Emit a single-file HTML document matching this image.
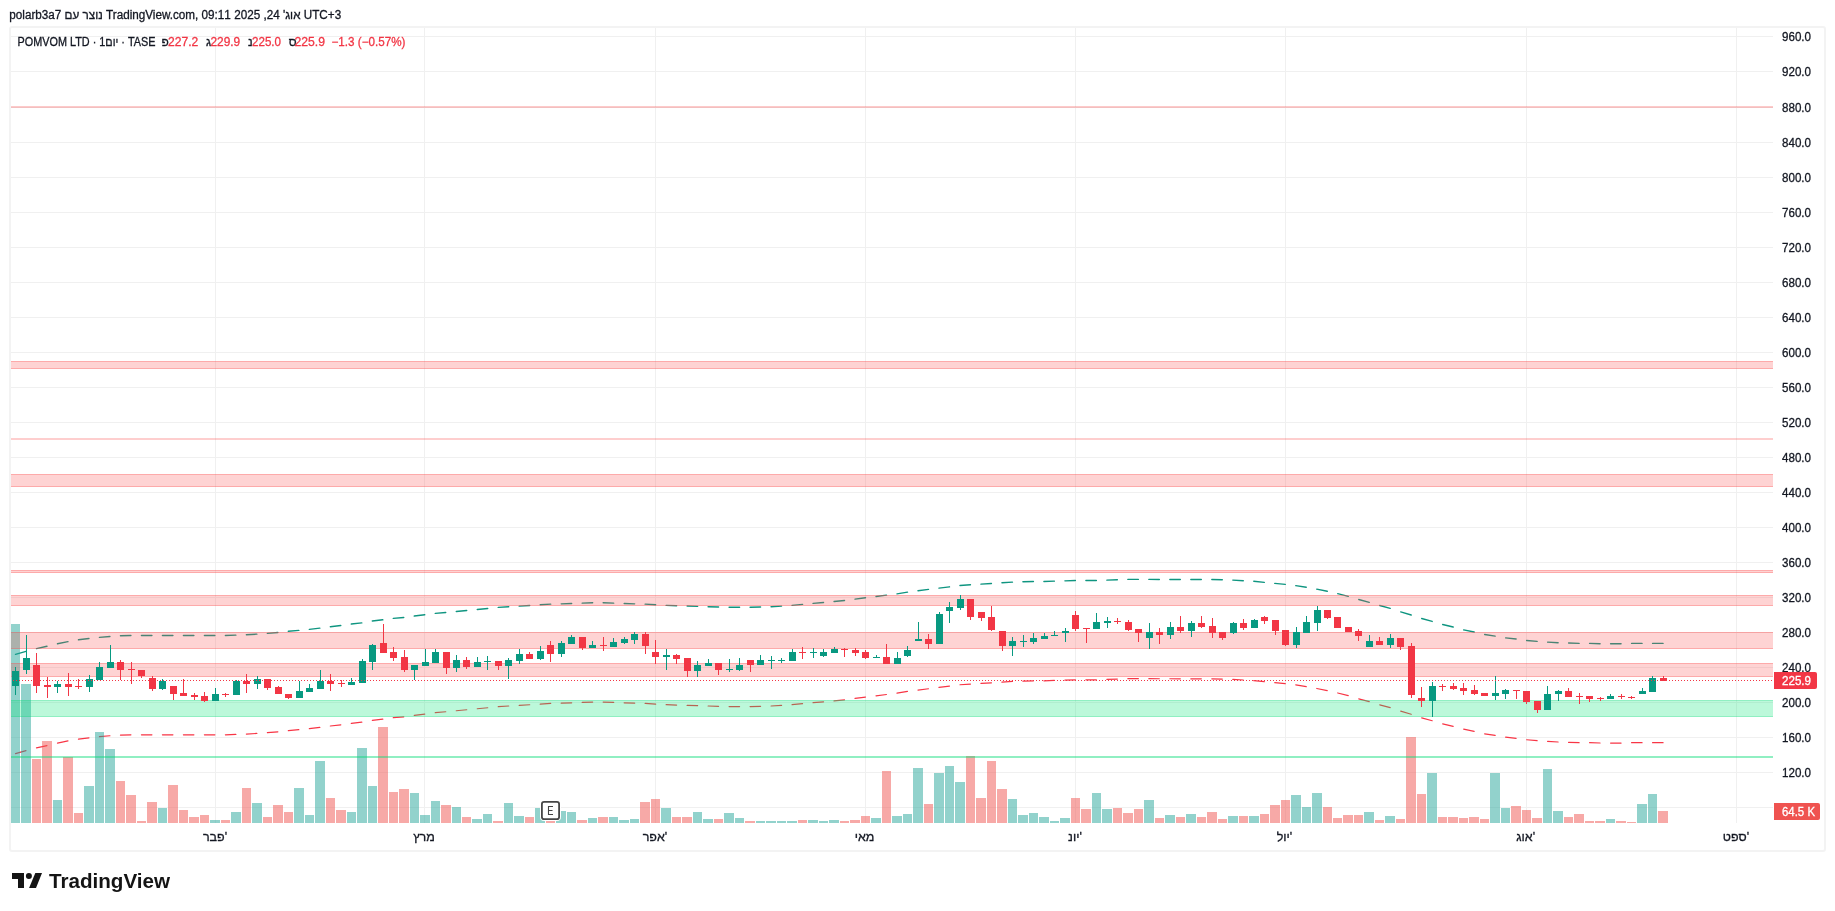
<!DOCTYPE html>
<html><head><meta charset="utf-8"><style>
html,body{margin:0;padding:0;background:#fff;width:1835px;height:911px;overflow:hidden;position:relative}
.frame{position:absolute;left:9px;top:26px;width:1817px;height:826px;box-sizing:border-box;border:2px solid #f3f3f3;border-radius:3px}
.t{position:absolute;white-space:nowrap;font-family:"Liberation Sans",sans-serif;direction:ltr;unicode-bidi:isolate}
</style></head><body>
<div class="frame"></div>
<svg width="1835" height="911" viewBox="0 0 1835 911" style="position:absolute;left:0;top:0;will-change:transform"><g shape-rendering="crispEdges" fill="#f0f0f0"><rect x="11" y="36" width="1762" height="1"/><rect x="11" y="71" width="1762" height="1"/><rect x="11" y="107" width="1762" height="1"/><rect x="11" y="142" width="1762" height="1"/><rect x="11" y="177" width="1762" height="1"/><rect x="11" y="212" width="1762" height="1"/><rect x="11" y="247" width="1762" height="1"/><rect x="11" y="282" width="1762" height="1"/><rect x="11" y="317" width="1762" height="1"/><rect x="11" y="352" width="1762" height="1"/><rect x="11" y="387" width="1762" height="1"/><rect x="11" y="422" width="1762" height="1"/><rect x="11" y="457" width="1762" height="1"/><rect x="11" y="492" width="1762" height="1"/><rect x="11" y="527" width="1762" height="1"/><rect x="11" y="562" width="1762" height="1"/><rect x="11" y="597" width="1762" height="1"/><rect x="11" y="632" width="1762" height="1"/><rect x="11" y="667" width="1762" height="1"/><rect x="11" y="702" width="1762" height="1"/><rect x="11" y="737" width="1762" height="1"/><rect x="11" y="772" width="1762" height="1"/><rect x="11" y="807" width="1762" height="1"/><rect x="215" y="28" width="1" height="795"/><rect x="424" y="28" width="1" height="795"/><rect x="655" y="28" width="1" height="795"/><rect x="865" y="28" width="1" height="795"/><rect x="1075" y="28" width="1" height="795"/><rect x="1285" y="28" width="1" height="795"/><rect x="1526" y="28" width="1" height="795"/><rect x="1736" y="28" width="1" height="795"/></g><path d="M15.50,654.37 L25.99,651.32 M36.49,648.63 L46.98,646.25 M57.48,643.81 L67.97,641.63 M78.46,639.81 L88.96,638.51 M99.45,637.40 L109.95,636.47 M120.44,635.80 L130.93,635.52 M141.43,635.50 L151.92,635.50 M162.42,635.50 L172.91,635.50 M183.40,635.50 L193.90,635.50 M204.39,635.50 L214.89,635.50 M225.38,635.50 L235.87,635.15 M246.37,634.77 L256.86,634.14 M267.36,633.40 L277.85,632.48 M288.34,631.32 L298.84,630.42 M309.33,629.33 L319.83,628.15 M330.32,626.72 L340.81,625.51 M351.31,624.06 L361.80,622.83 M372.30,621.00 L382.79,619.82 M393.28,618.35 L403.78,617.50 M414.27,616.05 L424.77,614.77 M435.26,613.42 L445.75,612.45 M456.25,611.45 L466.74,610.46 M477.24,609.45 L487.73,608.45 M498.22,607.41 L508.72,606.72 M519.21,606.09 L529.71,605.47 M540.20,604.82 L550.69,604.16 M561.19,603.85 L571.68,603.49 M582.18,603.14 L592.67,602.77 M603.16,602.77 L613.66,603.14 M624.15,603.49 L634.65,603.84 M645.14,604.16 L655.63,604.81 M666.13,605.42 L676.62,605.74 M687.12,606.06 L697.61,606.40 M708.10,606.69 L718.60,607.00 M729.09,607.29 L739.59,607.30 M750.08,607.30 L760.57,607.00 M771.07,606.71 L781.56,606.08 M792.06,605.40 L802.55,604.40 M813.04,603.42 L823.54,602.50 M834.03,601.52 L844.53,600.50 M855.02,599.14 L865.51,597.77 M876.01,596.50 L886.50,595.18 M897.00,593.84 L907.49,592.10 M917.98,590.73 L928.48,589.43 M938.97,588.16 L949.47,586.82 M959.96,585.47 L970.45,584.75 M980.95,584.11 L991.44,583.48 M1001.94,582.81 L1012.43,582.13 M1022.92,581.81 L1033.42,581.51 M1043.91,581.50 L1054.41,581.17 M1064.90,580.85 L1075.39,580.50 M1085.89,580.50 L1096.38,580.50 M1106.88,580.15 L1117.37,579.78 M1127.86,579.42 L1138.36,579.40 M1148.85,579.40 L1159.35,579.43 M1169.84,579.46 L1180.33,579.50 M1190.83,579.50 L1201.32,579.50 M1211.82,579.50 L1222.31,579.79 M1232.80,580.08 L1243.30,580.69 M1253.79,581.32 L1264.29,582.35 M1274.78,583.37 L1285.27,584.41 M1295.77,585.66 L1306.26,587.26 M1316.76,589.18 L1327.25,591.26 M1337.74,593.67 L1348.24,596.39 M1358.73,599.50 L1369.23,602.34 M1379.72,605.50 L1390.21,608.39 M1400.71,611.89 L1411.20,614.99 M1421.70,618.55 L1432.19,621.42 M1442.68,624.54 L1453.18,627.03 M1463.67,629.88 L1474.17,632.01 M1484.66,634.55 L1495.15,636.10 M1505.65,637.83 L1516.14,639.00 M1526.64,640.45 L1537.13,641.40 M1547.62,642.11 L1558.12,642.70 M1568.61,643.07 L1579.11,643.39 M1589.60,643.40 L1600.09,643.72 M1610.59,643.73 L1621.08,643.73 M1631.58,643.40 L1642.07,643.40 M1652.56,643.40 L1663.06,643.40" fill="none" stroke="#0f9580" stroke-width="1.4" stroke-linecap="round"/><path d="M15.50,753.67 L25.99,750.62 M36.49,747.93 L46.98,745.55 M57.48,743.11 L67.97,740.93 M78.46,739.11 L88.96,737.81 M99.45,736.70 L109.95,735.77 M120.44,735.10 L130.93,734.82 M141.43,734.80 L151.92,734.80 M162.42,734.80 L172.91,734.80 M183.40,734.80 L193.90,734.80 M204.39,734.80 L214.89,734.80 M225.38,734.80 L235.87,734.45 M246.37,734.07 L256.86,733.44 M267.36,732.70 L277.85,731.78 M288.34,730.62 L298.84,729.72 M309.33,728.63 L319.83,727.45 M330.32,726.02 L340.81,724.81 M351.31,723.36 L361.80,722.13 M372.30,720.30 L382.79,719.12 M393.28,717.65 L403.78,716.80 M414.27,715.35 L424.77,714.07 M435.26,712.72 L445.75,711.75 M456.25,710.75 L466.74,709.76 M477.24,708.75 L487.73,707.75 M498.22,706.71 L508.72,706.02 M519.21,705.39 L529.71,704.77 M540.20,704.12 L550.69,703.46 M561.19,703.15 L571.68,702.79 M582.18,702.44 L592.67,702.07 M603.16,702.07 L613.66,702.44 M624.15,702.79 L634.65,703.14 M645.14,703.46 L655.63,704.11 M666.13,704.72 L676.62,705.04 M687.12,705.36 L697.61,705.70 M708.10,705.99 L718.60,706.30 M729.09,706.59 L739.59,706.60 M750.08,706.60 L760.57,706.30 M771.07,706.01 L781.56,705.38 M792.06,704.70 L802.55,703.70 M813.04,702.72 L823.54,701.80 M834.03,700.82 L844.53,699.80 M855.02,698.44 L865.51,697.07 M876.01,695.80 L886.50,694.48 M897.00,693.14 L907.49,691.40 M917.98,690.03 L928.48,688.73 M938.97,687.46 L949.47,686.12 M959.96,684.77 L970.45,684.05 M980.95,683.41 L991.44,682.78 M1001.94,682.11 L1012.43,681.43 M1022.92,681.11 L1033.42,680.81 M1043.91,680.80 L1054.41,680.47 M1064.90,680.15 L1075.39,679.80 M1085.89,679.80 L1096.38,679.80 M1106.88,679.45 L1117.37,679.08 M1127.86,678.72 L1138.36,678.70 M1148.85,678.70 L1159.35,678.73 M1169.84,678.76 L1180.33,678.80 M1190.83,678.80 L1201.32,678.80 M1211.82,678.80 L1222.31,679.09 M1232.80,679.38 L1243.30,679.99 M1253.79,680.62 L1264.29,681.65 M1274.78,682.67 L1285.27,683.71 M1295.77,684.96 L1306.26,686.56 M1316.76,688.48 L1327.25,690.56 M1337.74,692.97 L1348.24,695.69 M1358.73,698.80 L1369.23,701.64 M1379.72,704.80 L1390.21,707.69 M1400.71,711.19 L1411.20,714.29 M1421.70,717.85 L1432.19,720.72 M1442.68,723.84 L1453.18,726.33 M1463.67,729.18 L1474.17,731.31 M1484.66,733.85 L1495.15,735.40 M1505.65,737.13 L1516.14,738.30 M1526.64,739.75 L1537.13,740.70 M1547.62,741.41 L1558.12,742.00 M1568.61,742.37 L1579.11,742.69 M1589.60,742.70 L1600.09,743.02 M1610.59,743.03 L1621.08,743.03 M1631.58,742.70 L1642.07,742.70 M1652.56,742.70 L1663.06,742.70" fill="none" stroke="#f83545" stroke-width="1.2" stroke-linecap="round"/><g shape-rendering="crispEdges"><rect x="11" y="624" width="9" height="199" fill="rgba(38,166,154,0.5)"/><rect x="21" y="684" width="10" height="139" fill="rgba(38,166,154,0.5)"/><rect x="32" y="759" width="9" height="64" fill="rgba(239,83,80,0.5)"/><rect x="42" y="741" width="10" height="82" fill="rgba(239,83,80,0.5)"/><rect x="53" y="800" width="9" height="23" fill="rgba(38,166,154,0.5)"/><rect x="63" y="757" width="10" height="66" fill="rgba(239,83,80,0.5)"/><rect x="74" y="813" width="9" height="10" fill="rgba(239,83,80,0.5)"/><rect x="84" y="786" width="10" height="37" fill="rgba(38,166,154,0.5)"/><rect x="95" y="732" width="9" height="91" fill="rgba(38,166,154,0.5)"/><rect x="105" y="749" width="10" height="74" fill="rgba(38,166,154,0.5)"/><rect x="116" y="781" width="9" height="42" fill="rgba(239,83,80,0.5)"/><rect x="126" y="795" width="10" height="28" fill="rgba(239,83,80,0.5)"/><rect x="137" y="821" width="9" height="2" fill="rgba(239,83,80,0.5)"/><rect x="147" y="802" width="10" height="21" fill="rgba(239,83,80,0.5)"/><rect x="158" y="808" width="9" height="15" fill="rgba(38,166,154,0.5)"/><rect x="168" y="785" width="10" height="38" fill="rgba(239,83,80,0.5)"/><rect x="179" y="810" width="9" height="13" fill="rgba(239,83,80,0.5)"/><rect x="189" y="817" width="10" height="6" fill="rgba(239,83,80,0.5)"/><rect x="200" y="815" width="9" height="8" fill="rgba(239,83,80,0.5)"/><rect x="210" y="820" width="10" height="3" fill="rgba(38,166,154,0.5)"/><rect x="221" y="820" width="9" height="3" fill="rgba(239,83,80,0.5)"/><rect x="231" y="812" width="10" height="11" fill="rgba(38,166,154,0.5)"/><rect x="242" y="788" width="9" height="35" fill="rgba(239,83,80,0.5)"/><rect x="252" y="803" width="10" height="20" fill="rgba(38,166,154,0.5)"/><rect x="263" y="817" width="9" height="6" fill="rgba(239,83,80,0.5)"/><rect x="273" y="805" width="10" height="18" fill="rgba(239,83,80,0.5)"/><rect x="284" y="812" width="9" height="11" fill="rgba(239,83,80,0.5)"/><rect x="294" y="788" width="10" height="35" fill="rgba(38,166,154,0.5)"/><rect x="305" y="815" width="9" height="8" fill="rgba(38,166,154,0.5)"/><rect x="315" y="761" width="10" height="62" fill="rgba(38,166,154,0.5)"/><rect x="326" y="798" width="9" height="25" fill="rgba(239,83,80,0.5)"/><rect x="336" y="810" width="10" height="13" fill="rgba(239,83,80,0.5)"/><rect x="347" y="812" width="9" height="11" fill="rgba(38,166,154,0.5)"/><rect x="357" y="748" width="10" height="75" fill="rgba(38,166,154,0.5)"/><rect x="368" y="786" width="9" height="37" fill="rgba(38,166,154,0.5)"/><rect x="378" y="727" width="10" height="96" fill="rgba(239,83,80,0.5)"/><rect x="389" y="792" width="9" height="31" fill="rgba(239,83,80,0.5)"/><rect x="399" y="789" width="10" height="34" fill="rgba(239,83,80,0.5)"/><rect x="410" y="793" width="9" height="30" fill="rgba(38,166,154,0.5)"/><rect x="420" y="815" width="10" height="8" fill="rgba(38,166,154,0.5)"/><rect x="431" y="801" width="9" height="22" fill="rgba(38,166,154,0.5)"/><rect x="441" y="805" width="10" height="18" fill="rgba(239,83,80,0.5)"/><rect x="452" y="807" width="9" height="16" fill="rgba(38,166,154,0.5)"/><rect x="462" y="817" width="9" height="6" fill="rgba(239,83,80,0.5)"/><rect x="472" y="819" width="10" height="4" fill="rgba(38,166,154,0.5)"/><rect x="483" y="814" width="9" height="9" fill="rgba(38,166,154,0.5)"/><rect x="493" y="821" width="10" height="2" fill="rgba(239,83,80,0.5)"/><rect x="504" y="803" width="9" height="20" fill="rgba(38,166,154,0.5)"/><rect x="514" y="816" width="10" height="7" fill="rgba(38,166,154,0.5)"/><rect x="525" y="817" width="9" height="6" fill="rgba(239,83,80,0.5)"/><rect x="535" y="808" width="10" height="15" fill="rgba(38,166,154,0.5)"/><rect x="546" y="821" width="9" height="2" fill="rgba(239,83,80,0.5)"/><rect x="556" y="811" width="10" height="12" fill="rgba(38,166,154,0.5)"/><rect x="567" y="812" width="9" height="11" fill="rgba(38,166,154,0.5)"/><rect x="577" y="820" width="10" height="3" fill="rgba(239,83,80,0.5)"/><rect x="588" y="818" width="9" height="5" fill="rgba(38,166,154,0.5)"/><rect x="598" y="817" width="10" height="6" fill="rgba(239,83,80,0.5)"/><rect x="609" y="817" width="9" height="6" fill="rgba(38,166,154,0.5)"/><rect x="619" y="820" width="10" height="3" fill="rgba(38,166,154,0.5)"/><rect x="630" y="819" width="9" height="4" fill="rgba(38,166,154,0.5)"/><rect x="640" y="802" width="10" height="21" fill="rgba(239,83,80,0.5)"/><rect x="651" y="799" width="9" height="24" fill="rgba(239,83,80,0.5)"/><rect x="661" y="808" width="10" height="15" fill="rgba(38,166,154,0.5)"/><rect x="672" y="817" width="9" height="6" fill="rgba(239,83,80,0.5)"/><rect x="682" y="817" width="10" height="6" fill="rgba(239,83,80,0.5)"/><rect x="693" y="812" width="9" height="11" fill="rgba(38,166,154,0.5)"/><rect x="703" y="819" width="10" height="4" fill="rgba(38,166,154,0.5)"/><rect x="714" y="819" width="9" height="4" fill="rgba(239,83,80,0.5)"/><rect x="724" y="813" width="10" height="10" fill="rgba(38,166,154,0.5)"/><rect x="735" y="818" width="9" height="5" fill="rgba(38,166,154,0.5)"/><rect x="745" y="821" width="10" height="2" fill="rgba(239,83,80,0.5)"/><rect x="756" y="821" width="9" height="2" fill="rgba(38,166,154,0.5)"/><rect x="766" y="821" width="10" height="2" fill="rgba(38,166,154,0.5)"/><rect x="777" y="821" width="9" height="2" fill="rgba(38,166,154,0.5)"/><rect x="787" y="821" width="10" height="2" fill="rgba(38,166,154,0.5)"/><rect x="798" y="820" width="9" height="3" fill="rgba(239,83,80,0.5)"/><rect x="808" y="820" width="10" height="3" fill="rgba(38,166,154,0.5)"/><rect x="819" y="821" width="9" height="2" fill="rgba(38,166,154,0.5)"/><rect x="829" y="820" width="10" height="3" fill="rgba(38,166,154,0.5)"/><rect x="840" y="821" width="9" height="2" fill="rgba(239,83,80,0.5)"/><rect x="850" y="820" width="10" height="3" fill="rgba(239,83,80,0.5)"/><rect x="861" y="816" width="9" height="7" fill="rgba(239,83,80,0.5)"/><rect x="871" y="818" width="10" height="5" fill="rgba(38,166,154,0.5)"/><rect x="882" y="771" width="9" height="52" fill="rgba(239,83,80,0.5)"/><rect x="892" y="816" width="10" height="7" fill="rgba(38,166,154,0.5)"/><rect x="903" y="814" width="9" height="9" fill="rgba(38,166,154,0.5)"/><rect x="913" y="768" width="10" height="55" fill="rgba(38,166,154,0.5)"/><rect x="924" y="804" width="9" height="19" fill="rgba(239,83,80,0.5)"/><rect x="934" y="773" width="10" height="50" fill="rgba(38,166,154,0.5)"/><rect x="945" y="766" width="9" height="57" fill="rgba(38,166,154,0.5)"/><rect x="955" y="782" width="10" height="41" fill="rgba(38,166,154,0.5)"/><rect x="966" y="756" width="9" height="67" fill="rgba(239,83,80,0.5)"/><rect x="976" y="798" width="10" height="25" fill="rgba(239,83,80,0.5)"/><rect x="987" y="761" width="9" height="62" fill="rgba(239,83,80,0.5)"/><rect x="997" y="789" width="10" height="34" fill="rgba(239,83,80,0.5)"/><rect x="1008" y="799" width="9" height="24" fill="rgba(38,166,154,0.5)"/><rect x="1018" y="815" width="10" height="8" fill="rgba(38,166,154,0.5)"/><rect x="1029" y="813" width="9" height="10" fill="rgba(38,166,154,0.5)"/><rect x="1039" y="817" width="10" height="6" fill="rgba(38,166,154,0.5)"/><rect x="1050" y="821" width="9" height="2" fill="rgba(38,166,154,0.5)"/><rect x="1060" y="818" width="10" height="5" fill="rgba(38,166,154,0.5)"/><rect x="1071" y="798" width="9" height="25" fill="rgba(239,83,80,0.5)"/><rect x="1081" y="809" width="10" height="14" fill="rgba(239,83,80,0.5)"/><rect x="1092" y="793" width="9" height="30" fill="rgba(38,166,154,0.5)"/><rect x="1102" y="809" width="10" height="14" fill="rgba(38,166,154,0.5)"/><rect x="1113" y="808" width="9" height="15" fill="rgba(239,83,80,0.5)"/><rect x="1123" y="813" width="10" height="10" fill="rgba(239,83,80,0.5)"/><rect x="1134" y="809" width="9" height="14" fill="rgba(239,83,80,0.5)"/><rect x="1144" y="800" width="10" height="23" fill="rgba(38,166,154,0.5)"/><rect x="1155" y="818" width="9" height="5" fill="rgba(239,83,80,0.5)"/><rect x="1165" y="815" width="10" height="8" fill="rgba(38,166,154,0.5)"/><rect x="1176" y="817" width="9" height="6" fill="rgba(239,83,80,0.5)"/><rect x="1186" y="814" width="10" height="9" fill="rgba(38,166,154,0.5)"/><rect x="1197" y="817" width="9" height="6" fill="rgba(239,83,80,0.5)"/><rect x="1207" y="812" width="10" height="11" fill="rgba(239,83,80,0.5)"/><rect x="1218" y="819" width="9" height="4" fill="rgba(239,83,80,0.5)"/><rect x="1228" y="816" width="10" height="7" fill="rgba(38,166,154,0.5)"/><rect x="1239" y="816" width="9" height="7" fill="rgba(239,83,80,0.5)"/><rect x="1249" y="816" width="10" height="7" fill="rgba(38,166,154,0.5)"/><rect x="1260" y="814" width="9" height="9" fill="rgba(239,83,80,0.5)"/><rect x="1270" y="805" width="10" height="18" fill="rgba(239,83,80,0.5)"/><rect x="1281" y="800" width="9" height="23" fill="rgba(239,83,80,0.5)"/><rect x="1291" y="795" width="10" height="28" fill="rgba(38,166,154,0.5)"/><rect x="1302" y="807" width="9" height="16" fill="rgba(38,166,154,0.5)"/><rect x="1312" y="793" width="10" height="30" fill="rgba(38,166,154,0.5)"/><rect x="1323" y="807" width="9" height="16" fill="rgba(239,83,80,0.5)"/><rect x="1333" y="818" width="9" height="5" fill="rgba(239,83,80,0.5)"/><rect x="1343" y="815" width="10" height="8" fill="rgba(239,83,80,0.5)"/><rect x="1354" y="815" width="9" height="8" fill="rgba(239,83,80,0.5)"/><rect x="1364" y="812" width="10" height="11" fill="rgba(38,166,154,0.5)"/><rect x="1375" y="820" width="9" height="3" fill="rgba(239,83,80,0.5)"/><rect x="1385" y="816" width="10" height="7" fill="rgba(38,166,154,0.5)"/><rect x="1396" y="819" width="9" height="4" fill="rgba(239,83,80,0.5)"/><rect x="1406" y="737" width="10" height="86" fill="rgba(239,83,80,0.5)"/><rect x="1417" y="794" width="9" height="29" fill="rgba(239,83,80,0.5)"/><rect x="1427" y="773" width="10" height="50" fill="rgba(38,166,154,0.5)"/><rect x="1438" y="817" width="9" height="6" fill="rgba(239,83,80,0.5)"/><rect x="1448" y="817" width="10" height="6" fill="rgba(239,83,80,0.5)"/><rect x="1459" y="818" width="9" height="5" fill="rgba(239,83,80,0.5)"/><rect x="1469" y="817" width="10" height="6" fill="rgba(239,83,80,0.5)"/><rect x="1480" y="819" width="9" height="4" fill="rgba(239,83,80,0.5)"/><rect x="1490" y="773" width="10" height="50" fill="rgba(38,166,154,0.5)"/><rect x="1501" y="808" width="9" height="15" fill="rgba(38,166,154,0.5)"/><rect x="1511" y="806" width="10" height="17" fill="rgba(239,83,80,0.5)"/><rect x="1522" y="810" width="9" height="13" fill="rgba(239,83,80,0.5)"/><rect x="1532" y="818" width="10" height="5" fill="rgba(239,83,80,0.5)"/><rect x="1543" y="769" width="9" height="54" fill="rgba(38,166,154,0.5)"/><rect x="1553" y="811" width="10" height="12" fill="rgba(38,166,154,0.5)"/><rect x="1564" y="817" width="9" height="6" fill="rgba(239,83,80,0.5)"/><rect x="1574" y="814" width="10" height="9" fill="rgba(239,83,80,0.5)"/><rect x="1585" y="821" width="9" height="2" fill="rgba(239,83,80,0.5)"/><rect x="1595" y="821" width="10" height="2" fill="rgba(239,83,80,0.5)"/><rect x="1606" y="819" width="9" height="4" fill="rgba(38,166,154,0.5)"/><rect x="1616" y="821" width="10" height="2" fill="rgba(239,83,80,0.5)"/><rect x="1627" y="822" width="9" height="1" fill="rgba(239,83,80,0.5)"/><rect x="1637" y="804" width="10" height="19" fill="rgba(38,166,154,0.5)"/><rect x="1648" y="794" width="9" height="29" fill="rgba(38,166,154,0.5)"/><rect x="1658" y="811" width="10" height="12" fill="rgba(239,83,80,0.5)"/></g><g shape-rendering="crispEdges"><rect x="11" y="106" width="1762" height="2" fill="rgba(250,78,78,0.3)"/><rect x="11" y="362" width="1762" height="6" fill="rgba(250,78,78,0.25)"/><rect x="11" y="361" width="1762" height="1" fill="rgba(250,78,78,0.48)"/><rect x="11" y="368" width="1762" height="1" fill="rgba(250,78,78,0.48)"/><rect x="11" y="438" width="1762" height="2" fill="rgba(250,78,78,0.28)"/><rect x="11" y="475" width="1762" height="11" fill="rgba(250,78,78,0.25)"/><rect x="11" y="474" width="1762" height="1" fill="rgba(250,78,78,0.48)"/><rect x="11" y="486" width="1762" height="1" fill="rgba(250,78,78,0.48)"/><rect x="11" y="571" width="1762" height="1" fill="rgba(250,78,78,0.25)"/><rect x="11" y="570" width="1762" height="1" fill="rgba(250,78,78,0.48)"/><rect x="11" y="572" width="1762" height="1" fill="rgba(250,78,78,0.48)"/><rect x="11" y="596" width="1762" height="9" fill="rgba(250,78,78,0.25)"/><rect x="11" y="595" width="1762" height="1" fill="rgba(250,78,78,0.48)"/><rect x="11" y="605" width="1762" height="1" fill="rgba(250,78,78,0.48)"/><rect x="11" y="633" width="1762" height="15" fill="rgba(250,78,78,0.25)"/><rect x="11" y="632" width="1762" height="1" fill="rgba(250,78,78,0.48)"/><rect x="11" y="648" width="1762" height="1" fill="rgba(250,78,78,0.48)"/><rect x="11" y="664" width="1762" height="12" fill="rgba(250,78,78,0.25)"/><rect x="11" y="663" width="1762" height="1" fill="rgba(250,78,78,0.48)"/><rect x="11" y="676" width="1762" height="1" fill="rgba(250,78,78,0.48)"/><rect x="11" y="701" width="1762" height="15" fill="rgba(8,230,120,0.27)"/><rect x="11" y="700" width="1762" height="1" fill="rgba(8,220,120,0.45)"/><rect x="11" y="716" width="1762" height="1" fill="rgba(8,220,120,0.45)"/><rect x="11" y="756" width="1762" height="2" fill="rgba(8,220,120,0.45)"/></g><g shape-rendering="crispEdges"><rect x="15" y="667" width="1" height="28" fill="#089981"/><rect x="12" y="671" width="7" height="15" fill="#089981"/><rect x="26" y="635" width="1" height="39" fill="#089981"/><rect x="23" y="658" width="7" height="12" fill="#089981"/><rect x="36" y="653" width="1" height="40" fill="#f23645"/><rect x="33" y="665" width="7" height="21" fill="#f23645"/><rect x="47" y="677" width="1" height="21" fill="#f23645"/><rect x="44" y="685" width="7" height="2" fill="#f23645"/><rect x="57" y="681" width="1" height="12" fill="#089981"/><rect x="54" y="684" width="7" height="3" fill="#089981"/><rect x="68" y="673" width="1" height="23" fill="#f23645"/><rect x="65" y="684" width="7" height="3" fill="#f23645"/><rect x="78" y="679" width="1" height="10" fill="#f23645"/><rect x="75" y="686" width="7" height="1" fill="#f23645"/><rect x="89" y="675" width="1" height="17" fill="#089981"/><rect x="86" y="679" width="7" height="8" fill="#089981"/><rect x="99" y="662" width="1" height="18" fill="#089981"/><rect x="96" y="667" width="7" height="13" fill="#089981"/><rect x="110" y="645" width="1" height="23" fill="#089981"/><rect x="107" y="662" width="7" height="6" fill="#089981"/><rect x="120" y="660" width="1" height="20" fill="#f23645"/><rect x="117" y="662" width="7" height="8" fill="#f23645"/><rect x="131" y="662" width="1" height="22" fill="#f23645"/><rect x="128" y="669" width="7" height="1" fill="#f23645"/><rect x="141" y="670" width="1" height="8" fill="#f23645"/><rect x="138" y="670" width="7" height="6" fill="#f23645"/><rect x="152" y="676" width="1" height="15" fill="#f23645"/><rect x="149" y="678" width="7" height="11" fill="#f23645"/><rect x="162" y="679" width="1" height="11" fill="#089981"/><rect x="159" y="681" width="7" height="8" fill="#089981"/><rect x="173" y="686" width="1" height="14" fill="#f23645"/><rect x="170" y="686" width="7" height="8" fill="#f23645"/><rect x="183" y="679" width="1" height="17" fill="#f23645"/><rect x="180" y="693" width="7" height="3" fill="#f23645"/><rect x="194" y="693" width="1" height="7" fill="#f23645"/><rect x="191" y="695" width="7" height="2" fill="#f23645"/><rect x="204" y="692" width="1" height="10" fill="#f23645"/><rect x="201" y="696" width="7" height="5" fill="#f23645"/><rect x="215" y="688" width="1" height="13" fill="#089981"/><rect x="212" y="694" width="7" height="7" fill="#089981"/><rect x="225" y="693" width="1" height="4" fill="#f23645"/><rect x="222" y="694" width="7" height="1" fill="#f23645"/><rect x="236" y="680" width="1" height="15" fill="#089981"/><rect x="233" y="681" width="7" height="14" fill="#089981"/><rect x="246" y="674" width="1" height="19" fill="#f23645"/><rect x="243" y="681" width="7" height="3" fill="#f23645"/><rect x="257" y="676" width="1" height="13" fill="#089981"/><rect x="254" y="679" width="7" height="5" fill="#089981"/><rect x="267" y="679" width="1" height="11" fill="#f23645"/><rect x="264" y="679" width="7" height="9" fill="#f23645"/><rect x="278" y="686" width="1" height="8" fill="#f23645"/><rect x="275" y="687" width="7" height="7" fill="#f23645"/><rect x="288" y="694" width="1" height="5" fill="#f23645"/><rect x="285" y="694" width="7" height="4" fill="#f23645"/><rect x="299" y="681" width="1" height="17" fill="#089981"/><rect x="296" y="691" width="7" height="7" fill="#089981"/><rect x="309" y="684" width="1" height="8" fill="#089981"/><rect x="306" y="688" width="7" height="4" fill="#089981"/><rect x="320" y="670" width="1" height="19" fill="#089981"/><rect x="317" y="681" width="7" height="8" fill="#089981"/><rect x="330" y="674" width="1" height="17" fill="#f23645"/><rect x="327" y="681" width="7" height="3" fill="#f23645"/><rect x="341" y="680" width="1" height="7" fill="#f23645"/><rect x="338" y="683" width="7" height="1" fill="#f23645"/><rect x="351" y="678" width="1" height="7" fill="#089981"/><rect x="348" y="682" width="7" height="3" fill="#089981"/><rect x="362" y="659" width="1" height="24" fill="#089981"/><rect x="359" y="661" width="7" height="22" fill="#089981"/><rect x="372" y="644" width="1" height="26" fill="#089981"/><rect x="369" y="645" width="7" height="17" fill="#089981"/><rect x="383" y="624" width="1" height="29" fill="#f23645"/><rect x="380" y="643" width="7" height="10" fill="#f23645"/><rect x="393" y="647" width="1" height="14" fill="#f23645"/><rect x="390" y="652" width="7" height="6" fill="#f23645"/><rect x="404" y="650" width="1" height="22" fill="#f23645"/><rect x="401" y="657" width="7" height="13" fill="#f23645"/><rect x="414" y="665" width="1" height="15" fill="#089981"/><rect x="411" y="665" width="7" height="5" fill="#089981"/><rect x="425" y="649" width="1" height="17" fill="#089981"/><rect x="422" y="662" width="7" height="4" fill="#089981"/><rect x="435" y="649" width="1" height="14" fill="#089981"/><rect x="432" y="652" width="7" height="11" fill="#089981"/><rect x="446" y="652" width="1" height="22" fill="#f23645"/><rect x="443" y="652" width="7" height="16" fill="#f23645"/><rect x="456" y="655" width="1" height="17" fill="#089981"/><rect x="453" y="660" width="7" height="8" fill="#089981"/><rect x="466" y="657" width="1" height="12" fill="#f23645"/><rect x="463" y="660" width="7" height="7" fill="#f23645"/><rect x="477" y="657" width="1" height="10" fill="#089981"/><rect x="474" y="662" width="7" height="5" fill="#089981"/><rect x="487" y="656" width="1" height="14" fill="#089981"/><rect x="484" y="661" width="7" height="1" fill="#089981"/><rect x="498" y="661" width="1" height="9" fill="#f23645"/><rect x="495" y="661" width="7" height="5" fill="#f23645"/><rect x="508" y="658" width="1" height="21" fill="#089981"/><rect x="505" y="660" width="7" height="6" fill="#089981"/><rect x="519" y="649" width="1" height="15" fill="#089981"/><rect x="516" y="654" width="7" height="7" fill="#089981"/><rect x="529" y="652" width="1" height="7" fill="#f23645"/><rect x="526" y="654" width="7" height="5" fill="#f23645"/><rect x="540" y="646" width="1" height="14" fill="#089981"/><rect x="537" y="651" width="7" height="8" fill="#089981"/><rect x="550" y="641" width="1" height="21" fill="#f23645"/><rect x="547" y="645" width="7" height="9" fill="#f23645"/><rect x="561" y="641" width="1" height="16" fill="#089981"/><rect x="558" y="643" width="7" height="11" fill="#089981"/><rect x="571" y="635" width="1" height="9" fill="#089981"/><rect x="568" y="637" width="7" height="7" fill="#089981"/><rect x="582" y="637" width="1" height="13" fill="#f23645"/><rect x="579" y="637" width="7" height="11" fill="#f23645"/><rect x="592" y="641" width="1" height="7" fill="#089981"/><rect x="589" y="645" width="7" height="3" fill="#089981"/><rect x="603" y="637" width="1" height="14" fill="#f23645"/><rect x="600" y="645" width="7" height="1" fill="#f23645"/><rect x="613" y="638" width="1" height="9" fill="#089981"/><rect x="610" y="642" width="7" height="5" fill="#089981"/><rect x="624" y="637" width="1" height="7" fill="#089981"/><rect x="621" y="639" width="7" height="4" fill="#089981"/><rect x="634" y="632" width="1" height="12" fill="#089981"/><rect x="631" y="634" width="7" height="6" fill="#089981"/><rect x="645" y="632" width="1" height="22" fill="#f23645"/><rect x="642" y="634" width="7" height="12" fill="#f23645"/><rect x="655" y="640" width="1" height="24" fill="#f23645"/><rect x="652" y="652" width="7" height="5" fill="#f23645"/><rect x="666" y="649" width="1" height="21" fill="#089981"/><rect x="663" y="655" width="7" height="2" fill="#089981"/><rect x="676" y="654" width="1" height="10" fill="#f23645"/><rect x="673" y="655" width="7" height="4" fill="#f23645"/><rect x="687" y="658" width="1" height="19" fill="#f23645"/><rect x="684" y="658" width="7" height="13" fill="#f23645"/><rect x="697" y="661" width="1" height="16" fill="#089981"/><rect x="694" y="665" width="7" height="6" fill="#089981"/><rect x="708" y="659" width="1" height="7" fill="#089981"/><rect x="705" y="663" width="7" height="3" fill="#089981"/><rect x="718" y="663" width="1" height="12" fill="#f23645"/><rect x="715" y="663" width="7" height="7" fill="#f23645"/><rect x="729" y="659" width="1" height="13" fill="#089981"/><rect x="726" y="669" width="7" height="1" fill="#089981"/><rect x="739" y="658" width="1" height="13" fill="#089981"/><rect x="736" y="665" width="7" height="5" fill="#089981"/><rect x="750" y="660" width="1" height="12" fill="#f23645"/><rect x="747" y="660" width="7" height="5" fill="#f23645"/><rect x="760" y="655" width="1" height="10" fill="#089981"/><rect x="757" y="660" width="7" height="5" fill="#089981"/><rect x="771" y="656" width="1" height="13" fill="#089981"/><rect x="768" y="660" width="7" height="1" fill="#089981"/><rect x="781" y="658" width="1" height="5" fill="#089981"/><rect x="778" y="660" width="7" height="1" fill="#089981"/><rect x="792" y="649" width="1" height="12" fill="#089981"/><rect x="789" y="652" width="7" height="9" fill="#089981"/><rect x="802" y="647" width="1" height="12" fill="#f23645"/><rect x="799" y="652" width="7" height="1" fill="#f23645"/><rect x="813" y="648" width="1" height="10" fill="#089981"/><rect x="810" y="652" width="7" height="1" fill="#089981"/><rect x="823" y="649" width="1" height="8" fill="#089981"/><rect x="820" y="652" width="7" height="4" fill="#089981"/><rect x="834" y="647" width="1" height="6" fill="#089981"/><rect x="831" y="649" width="7" height="4" fill="#089981"/><rect x="844" y="648" width="1" height="9" fill="#f23645"/><rect x="841" y="649" width="7" height="1" fill="#f23645"/><rect x="855" y="648" width="1" height="8" fill="#f23645"/><rect x="852" y="650" width="7" height="3" fill="#f23645"/><rect x="865" y="650" width="1" height="9" fill="#f23645"/><rect x="862" y="652" width="7" height="6" fill="#f23645"/><rect x="876" y="655" width="1" height="3" fill="#089981"/><rect x="873" y="657" width="7" height="1" fill="#089981"/><rect x="886" y="644" width="1" height="20" fill="#f23645"/><rect x="883" y="657" width="7" height="7" fill="#f23645"/><rect x="897" y="652" width="1" height="12" fill="#089981"/><rect x="894" y="658" width="7" height="6" fill="#089981"/><rect x="907" y="646" width="1" height="11" fill="#089981"/><rect x="904" y="650" width="7" height="6" fill="#089981"/><rect x="918" y="622" width="1" height="19" fill="#089981"/><rect x="915" y="639" width="7" height="2" fill="#089981"/><rect x="928" y="634" width="1" height="15" fill="#f23645"/><rect x="925" y="639" width="7" height="5" fill="#f23645"/><rect x="939" y="612" width="1" height="32" fill="#089981"/><rect x="936" y="614" width="7" height="30" fill="#089981"/><rect x="949" y="602" width="1" height="21" fill="#089981"/><rect x="946" y="607" width="7" height="4" fill="#089981"/><rect x="960" y="595" width="1" height="15" fill="#089981"/><rect x="957" y="599" width="7" height="9" fill="#089981"/><rect x="970" y="599" width="1" height="21" fill="#f23645"/><rect x="967" y="599" width="7" height="18" fill="#f23645"/><rect x="981" y="612" width="1" height="9" fill="#f23645"/><rect x="978" y="612" width="7" height="6" fill="#f23645"/><rect x="991" y="606" width="1" height="25" fill="#f23645"/><rect x="988" y="617" width="7" height="13" fill="#f23645"/><rect x="1002" y="631" width="1" height="20" fill="#f23645"/><rect x="999" y="631" width="7" height="15" fill="#f23645"/><rect x="1012" y="637" width="1" height="19" fill="#089981"/><rect x="1009" y="641" width="7" height="5" fill="#089981"/><rect x="1023" y="635" width="1" height="12" fill="#089981"/><rect x="1020" y="641" width="7" height="1" fill="#089981"/><rect x="1033" y="633" width="1" height="11" fill="#089981"/><rect x="1030" y="638" width="7" height="4" fill="#089981"/><rect x="1044" y="633" width="1" height="6" fill="#089981"/><rect x="1041" y="636" width="7" height="3" fill="#089981"/><rect x="1054" y="631" width="1" height="5" fill="#089981"/><rect x="1051" y="635" width="7" height="1" fill="#089981"/><rect x="1065" y="628" width="1" height="14" fill="#089981"/><rect x="1062" y="631" width="7" height="2" fill="#089981"/><rect x="1075" y="611" width="1" height="20" fill="#f23645"/><rect x="1072" y="615" width="7" height="14" fill="#f23645"/><rect x="1086" y="628" width="1" height="15" fill="#f23645"/><rect x="1083" y="628" width="7" height="1" fill="#f23645"/><rect x="1096" y="613" width="1" height="16" fill="#089981"/><rect x="1093" y="622" width="7" height="7" fill="#089981"/><rect x="1107" y="617" width="1" height="11" fill="#089981"/><rect x="1104" y="621" width="7" height="2" fill="#089981"/><rect x="1117" y="618" width="1" height="6" fill="#f23645"/><rect x="1114" y="621" width="7" height="1" fill="#f23645"/><rect x="1128" y="620" width="1" height="11" fill="#f23645"/><rect x="1125" y="622" width="7" height="8" fill="#f23645"/><rect x="1138" y="629" width="1" height="13" fill="#f23645"/><rect x="1135" y="629" width="7" height="4" fill="#f23645"/><rect x="1149" y="623" width="1" height="26" fill="#089981"/><rect x="1146" y="632" width="7" height="6" fill="#089981"/><rect x="1159" y="628" width="1" height="16" fill="#f23645"/><rect x="1156" y="632" width="7" height="3" fill="#f23645"/><rect x="1170" y="622" width="1" height="17" fill="#089981"/><rect x="1167" y="627" width="7" height="8" fill="#089981"/><rect x="1180" y="616" width="1" height="17" fill="#f23645"/><rect x="1177" y="627" width="7" height="4" fill="#f23645"/><rect x="1191" y="621" width="1" height="16" fill="#089981"/><rect x="1188" y="623" width="7" height="8" fill="#089981"/><rect x="1201" y="616" width="1" height="12" fill="#f23645"/><rect x="1198" y="623" width="7" height="4" fill="#f23645"/><rect x="1212" y="618" width="1" height="20" fill="#f23645"/><rect x="1209" y="626" width="7" height="7" fill="#f23645"/><rect x="1222" y="632" width="1" height="8" fill="#f23645"/><rect x="1219" y="632" width="7" height="6" fill="#f23645"/><rect x="1233" y="622" width="1" height="12" fill="#089981"/><rect x="1230" y="623" width="7" height="10" fill="#089981"/><rect x="1243" y="619" width="1" height="11" fill="#f23645"/><rect x="1240" y="623" width="7" height="5" fill="#f23645"/><rect x="1254" y="619" width="1" height="9" fill="#089981"/><rect x="1251" y="620" width="7" height="8" fill="#089981"/><rect x="1264" y="616" width="1" height="8" fill="#f23645"/><rect x="1261" y="617" width="7" height="4" fill="#f23645"/><rect x="1275" y="620" width="1" height="15" fill="#f23645"/><rect x="1272" y="620" width="7" height="11" fill="#f23645"/><rect x="1285" y="630" width="1" height="16" fill="#f23645"/><rect x="1282" y="630" width="7" height="15" fill="#f23645"/><rect x="1296" y="627" width="1" height="21" fill="#089981"/><rect x="1293" y="632" width="7" height="13" fill="#089981"/><rect x="1306" y="616" width="1" height="17" fill="#089981"/><rect x="1303" y="622" width="7" height="11" fill="#089981"/><rect x="1317" y="606" width="1" height="25" fill="#089981"/><rect x="1314" y="610" width="7" height="13" fill="#089981"/><rect x="1327" y="610" width="1" height="9" fill="#f23645"/><rect x="1324" y="610" width="7" height="8" fill="#f23645"/><rect x="1337" y="617" width="1" height="11" fill="#f23645"/><rect x="1334" y="617" width="7" height="11" fill="#f23645"/><rect x="1348" y="627" width="1" height="5" fill="#f23645"/><rect x="1345" y="627" width="7" height="5" fill="#f23645"/><rect x="1358" y="629" width="1" height="12" fill="#f23645"/><rect x="1355" y="631" width="7" height="5" fill="#f23645"/><rect x="1369" y="635" width="1" height="12" fill="#089981"/><rect x="1366" y="641" width="7" height="6" fill="#089981"/><rect x="1379" y="637" width="1" height="8" fill="#f23645"/><rect x="1376" y="641" width="7" height="4" fill="#f23645"/><rect x="1390" y="634" width="1" height="14" fill="#089981"/><rect x="1387" y="638" width="7" height="7" fill="#089981"/><rect x="1400" y="638" width="1" height="12" fill="#f23645"/><rect x="1397" y="638" width="7" height="9" fill="#f23645"/><rect x="1411" y="643" width="1" height="55" fill="#f23645"/><rect x="1408" y="646" width="7" height="49" fill="#f23645"/><rect x="1421" y="687" width="1" height="20" fill="#f23645"/><rect x="1418" y="698" width="7" height="3" fill="#f23645"/><rect x="1432" y="682" width="1" height="35" fill="#089981"/><rect x="1429" y="686" width="7" height="15" fill="#089981"/><rect x="1442" y="684" width="1" height="7" fill="#f23645"/><rect x="1439" y="686" width="7" height="1" fill="#f23645"/><rect x="1453" y="683" width="1" height="7" fill="#f23645"/><rect x="1450" y="686" width="7" height="3" fill="#f23645"/><rect x="1463" y="683" width="1" height="12" fill="#f23645"/><rect x="1460" y="688" width="7" height="3" fill="#f23645"/><rect x="1474" y="685" width="1" height="10" fill="#f23645"/><rect x="1471" y="690" width="7" height="4" fill="#f23645"/><rect x="1484" y="693" width="1" height="3" fill="#f23645"/><rect x="1481" y="693" width="7" height="3" fill="#f23645"/><rect x="1495" y="676" width="1" height="24" fill="#089981"/><rect x="1492" y="693" width="7" height="3" fill="#089981"/><rect x="1505" y="689" width="1" height="10" fill="#089981"/><rect x="1502" y="690" width="7" height="4" fill="#089981"/><rect x="1516" y="690" width="1" height="9" fill="#f23645"/><rect x="1513" y="690" width="7" height="1" fill="#f23645"/><rect x="1526" y="691" width="1" height="13" fill="#f23645"/><rect x="1523" y="691" width="7" height="11" fill="#f23645"/><rect x="1537" y="701" width="1" height="12" fill="#f23645"/><rect x="1534" y="701" width="7" height="9" fill="#f23645"/><rect x="1547" y="686" width="1" height="24" fill="#089981"/><rect x="1544" y="694" width="7" height="16" fill="#089981"/><rect x="1558" y="690" width="1" height="11" fill="#089981"/><rect x="1555" y="691" width="7" height="3" fill="#089981"/><rect x="1568" y="688" width="1" height="9" fill="#f23645"/><rect x="1565" y="691" width="7" height="6" fill="#f23645"/><rect x="1579" y="693" width="1" height="11" fill="#f23645"/><rect x="1576" y="696" width="7" height="1" fill="#f23645"/><rect x="1589" y="696" width="1" height="6" fill="#f23645"/><rect x="1586" y="696" width="7" height="3" fill="#f23645"/><rect x="1600" y="697" width="1" height="4" fill="#f23645"/><rect x="1597" y="698" width="7" height="1" fill="#f23645"/><rect x="1610" y="694" width="1" height="5" fill="#089981"/><rect x="1607" y="696" width="7" height="3" fill="#089981"/><rect x="1621" y="694" width="1" height="5" fill="#f23645"/><rect x="1618" y="696" width="7" height="1" fill="#f23645"/><rect x="1631" y="696" width="1" height="3" fill="#f23645"/><rect x="1628" y="697" width="7" height="1" fill="#f23645"/><rect x="1642" y="688" width="1" height="6" fill="#089981"/><rect x="1639" y="691" width="7" height="3" fill="#089981"/><rect x="1652" y="676" width="1" height="16" fill="#089981"/><rect x="1649" y="678" width="7" height="14" fill="#089981"/><rect x="1663" y="676" width="1" height="5" fill="#f23645"/><rect x="1660" y="678" width="7" height="3" fill="#f23645"/></g><line x1="13" y1="680.5" x2="1772" y2="680.5" stroke="#f23645" stroke-width="1" stroke-dasharray="1 2" shape-rendering="crispEdges"/><rect x="540.5" y="800.5" width="20" height="20" rx="3" fill="#fff" stroke="#fff" stroke-width="1"/><rect x="541.9" y="801.9" width="17.2" height="17.2" rx="2.2" fill="#fff" stroke="#464646" stroke-width="1.8"/><path d="M548.5,806.5 H553 M548.5,810.5 H552.5 M548.5,814.5 H553 M548.5,806 V815" stroke="#434343" stroke-width="1.1" fill="none"/><text x="1782" y="40.8" font-family="Liberation Sans, sans-serif" font-size="12.3" fill="#131722" stroke="#131722" stroke-width="0.3" textLength="29" lengthAdjust="spacingAndGlyphs">960.0</text><text x="1782" y="75.8" font-family="Liberation Sans, sans-serif" font-size="12.3" fill="#131722" stroke="#131722" stroke-width="0.3" textLength="29" lengthAdjust="spacingAndGlyphs">920.0</text><text x="1782" y="111.8" font-family="Liberation Sans, sans-serif" font-size="12.3" fill="#131722" stroke="#131722" stroke-width="0.3" textLength="29" lengthAdjust="spacingAndGlyphs">880.0</text><text x="1782" y="146.8" font-family="Liberation Sans, sans-serif" font-size="12.3" fill="#131722" stroke="#131722" stroke-width="0.3" textLength="29" lengthAdjust="spacingAndGlyphs">840.0</text><text x="1782" y="181.8" font-family="Liberation Sans, sans-serif" font-size="12.3" fill="#131722" stroke="#131722" stroke-width="0.3" textLength="29" lengthAdjust="spacingAndGlyphs">800.0</text><text x="1782" y="216.8" font-family="Liberation Sans, sans-serif" font-size="12.3" fill="#131722" stroke="#131722" stroke-width="0.3" textLength="29" lengthAdjust="spacingAndGlyphs">760.0</text><text x="1782" y="251.8" font-family="Liberation Sans, sans-serif" font-size="12.3" fill="#131722" stroke="#131722" stroke-width="0.3" textLength="29" lengthAdjust="spacingAndGlyphs">720.0</text><text x="1782" y="286.8" font-family="Liberation Sans, sans-serif" font-size="12.3" fill="#131722" stroke="#131722" stroke-width="0.3" textLength="29" lengthAdjust="spacingAndGlyphs">680.0</text><text x="1782" y="321.8" font-family="Liberation Sans, sans-serif" font-size="12.3" fill="#131722" stroke="#131722" stroke-width="0.3" textLength="29" lengthAdjust="spacingAndGlyphs">640.0</text><text x="1782" y="356.8" font-family="Liberation Sans, sans-serif" font-size="12.3" fill="#131722" stroke="#131722" stroke-width="0.3" textLength="29" lengthAdjust="spacingAndGlyphs">600.0</text><text x="1782" y="391.8" font-family="Liberation Sans, sans-serif" font-size="12.3" fill="#131722" stroke="#131722" stroke-width="0.3" textLength="29" lengthAdjust="spacingAndGlyphs">560.0</text><text x="1782" y="426.8" font-family="Liberation Sans, sans-serif" font-size="12.3" fill="#131722" stroke="#131722" stroke-width="0.3" textLength="29" lengthAdjust="spacingAndGlyphs">520.0</text><text x="1782" y="461.8" font-family="Liberation Sans, sans-serif" font-size="12.3" fill="#131722" stroke="#131722" stroke-width="0.3" textLength="29" lengthAdjust="spacingAndGlyphs">480.0</text><text x="1782" y="496.8" font-family="Liberation Sans, sans-serif" font-size="12.3" fill="#131722" stroke="#131722" stroke-width="0.3" textLength="29" lengthAdjust="spacingAndGlyphs">440.0</text><text x="1782" y="531.8" font-family="Liberation Sans, sans-serif" font-size="12.3" fill="#131722" stroke="#131722" stroke-width="0.3" textLength="29" lengthAdjust="spacingAndGlyphs">400.0</text><text x="1782" y="566.8" font-family="Liberation Sans, sans-serif" font-size="12.3" fill="#131722" stroke="#131722" stroke-width="0.3" textLength="29" lengthAdjust="spacingAndGlyphs">360.0</text><text x="1782" y="601.8" font-family="Liberation Sans, sans-serif" font-size="12.3" fill="#131722" stroke="#131722" stroke-width="0.3" textLength="29" lengthAdjust="spacingAndGlyphs">320.0</text><text x="1782" y="636.8" font-family="Liberation Sans, sans-serif" font-size="12.3" fill="#131722" stroke="#131722" stroke-width="0.3" textLength="29" lengthAdjust="spacingAndGlyphs">280.0</text><text x="1782" y="706.8" font-family="Liberation Sans, sans-serif" font-size="12.3" fill="#131722" stroke="#131722" stroke-width="0.3" textLength="29" lengthAdjust="spacingAndGlyphs">200.0</text><text x="1782" y="741.8" font-family="Liberation Sans, sans-serif" font-size="12.3" fill="#131722" stroke="#131722" stroke-width="0.3" textLength="29" lengthAdjust="spacingAndGlyphs">160.0</text><text x="1782" y="776.8" font-family="Liberation Sans, sans-serif" font-size="12.3" fill="#131722" stroke="#131722" stroke-width="0.3" textLength="29" lengthAdjust="spacingAndGlyphs">120.0</text><text x="1782" y="671.8" font-family="Liberation Sans, sans-serif" font-size="12.3" fill="#131722" stroke="#131722" stroke-width="0.3" textLength="29" lengthAdjust="spacingAndGlyphs">240.0</text><path d="M1774,672 H1815 Q1817,672 1817,674 V687 Q1817,689 1815,689 H1774 Z" fill="#f23645"/><text x="1782" y="685" font-family="Liberation Sans, sans-serif" font-size="12.3" fill="#fff" stroke="#fff" stroke-width="0.3" textLength="29" lengthAdjust="spacingAndGlyphs">225.9</text><path d="M1774,803 H1818 Q1820,803 1820,805 V818 Q1820,820 1818,820 H1774 Z" fill="#ef5350"/><text x="1782" y="816" font-family="Liberation Sans, sans-serif" font-size="12.3" fill="#fff" stroke="#fff" stroke-width="0.3" textLength="33" lengthAdjust="spacingAndGlyphs">64.5 K</text><text x="215.0" y="841" font-family="Liberation Sans, sans-serif" font-size="12.5" fill="#131722" stroke="#131722" stroke-width="0.3" text-anchor="middle" direction="ltr">פבר'</text><text x="424.0" y="841" font-family="Liberation Sans, sans-serif" font-size="12.5" fill="#131722" stroke="#131722" stroke-width="0.3" text-anchor="middle" direction="ltr">מרץ</text><text x="654.9" y="841" font-family="Liberation Sans, sans-serif" font-size="12.5" fill="#131722" stroke="#131722" stroke-width="0.3" text-anchor="middle" direction="ltr">אפר'</text><text x="864.6" y="841" font-family="Liberation Sans, sans-serif" font-size="12.5" fill="#131722" stroke="#131722" stroke-width="0.3" text-anchor="middle" direction="ltr">מאי</text><text x="1074.9" y="841" font-family="Liberation Sans, sans-serif" font-size="12.5" fill="#131722" stroke="#131722" stroke-width="0.3" text-anchor="middle" direction="ltr">יונ'</text><text x="1284.5" y="841" font-family="Liberation Sans, sans-serif" font-size="12.5" fill="#131722" stroke="#131722" stroke-width="0.3" text-anchor="middle" direction="ltr">יול'</text><text x="1525.7" y="841" font-family="Liberation Sans, sans-serif" font-size="12.5" fill="#131722" stroke="#131722" stroke-width="0.3" text-anchor="middle" direction="ltr">אוג'</text><text x="1735.9" y="841" font-family="Liberation Sans, sans-serif" font-size="12.5" fill="#131722" stroke="#131722" stroke-width="0.3" text-anchor="middle" direction="ltr">ספט'</text><g fill="#141414"><path d="M12,873 H24 V888 H18 V879 H12 Z"/><circle cx="28.9" cy="876" r="3"/><path d="M35.3,873 H42 L36,888 H29.1 Z"/></g><text x="49" y="888" font-family="Liberation Sans, sans-serif" font-weight="bold" font-size="20.8" fill="#141414" textLength="121" lengthAdjust="spacingAndGlyphs">TradingView</text><text transform="translate(9.3,19) scale(0.9755,1)" font-family="Liberation Sans, sans-serif" font-size="12" fill="#131722" stroke="#131722" stroke-width="0.3">polarb3a7 נוצר עם TradingView.com, אוג' 24, 2025 09:11 UTC+3</text><text transform="translate(17.6,46) scale(0.904,1)" font-family="Liberation Sans, sans-serif" font-size="12" fill="#131722" stroke="#131722" stroke-width="0.3">POMVOM LTD · 1יום · TASE</text><text x="161.6" y="46" font-family="Liberation Sans, sans-serif" font-size="12" fill="#131722" stroke="#131722" stroke-width="0.3">פ</text><text transform="translate(168.09,46) scale(1.007,1)" font-family="Liberation Sans, sans-serif" font-size="12" fill="#f23645" stroke="#f23645" stroke-width="0.3">227.2</text><text x="206.0" y="46" font-family="Liberation Sans, sans-serif" font-size="12" fill="#131722" stroke="#131722" stroke-width="0.3">ג</text><text transform="translate(210.41,46) scale(0.993,1)" font-family="Liberation Sans, sans-serif" font-size="12" fill="#f23645" stroke="#f23645" stroke-width="0.3">229.9</text><text x="248.0" y="46" font-family="Liberation Sans, sans-serif" font-size="12" fill="#131722" stroke="#131722" stroke-width="0.3">נ</text><text transform="translate(252.03,46) scale(0.966,1)" font-family="Liberation Sans, sans-serif" font-size="12" fill="#f23645" stroke="#f23645" stroke-width="0.3">225.0</text><text x="288.7" y="46" font-family="Liberation Sans, sans-serif" font-size="12" fill="#131722" stroke="#131722" stroke-width="0.3">ס</text><text transform="translate(294.48,46) scale(1.017,1)" font-family="Liberation Sans, sans-serif" font-size="12" fill="#f23645" stroke="#f23645" stroke-width="0.3">225.9</text><text transform="translate(331.53,46) scale(0.972,1)" font-family="Liberation Sans, sans-serif" font-size="12" fill="#f23645" stroke="#f23645" stroke-width="0.3">−1.3 (−0.57%)</text></svg>
</body></html>
